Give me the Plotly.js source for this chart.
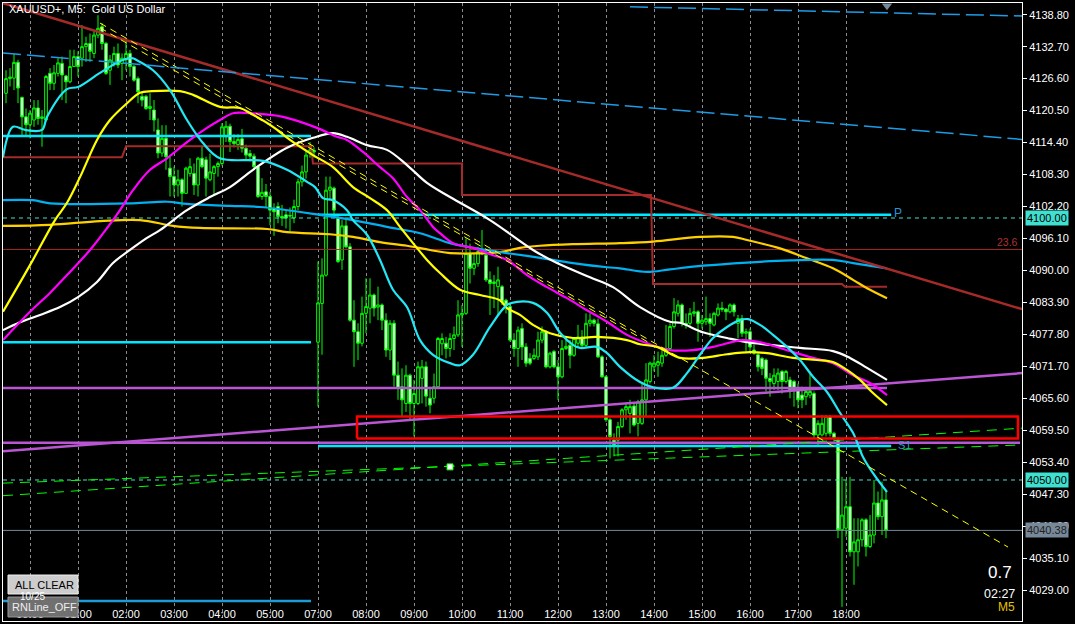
<!DOCTYPE html>
<html><head><meta charset="utf-8">
<script src="https://cdn.plot.ly/plotly-3.0.1.min.js"></script>
<style>html,body{margin:0;padding:0;background:#000;overflow:hidden}#chart{width:1075px;height:624px}</style>
</head><body><div id="chart"></div>
<script>
// ---------- DATA ----------
const firstBar = -6; // bar index of first visible M5 candle (00:00 = bar 0)
const open = [
4123.8,4126.6,4126.7,4129.7,4123.0,4119.3,4117.8,4118.7,4121.0,4119.0,
4118.7,4127.6,4125.7,4127.6,4129.5,4127.1,4126.0,4128.9,4130.8,4130.5,
4132.7,4133.3,4131.4,4134.9,4136.5,4133.3,4128.2,4129.5,4131.4,4129.5,
4130.2,4131.4,4128.9,4126.6,4123.2,4123.2,4120.9,4120.6,4116.8,4112.4,
4115.2,4109.5,4107.9,4106.3,4107.3,4104.7,4108.5,4108.5,4106.3,4111.4,
4111.1,4107.3,4108.5,4109.8,4110.4,4115.5,4117.5,4114.6,4114.0,4115.1,
4113.3,4112.3,4111.8,4109.8,4104.1,4105.0,4104.1,4101.8,4102.2,4100.3,
4100.6,4100.5,4100.0,4102.2,4106.9,4108.8,4112.5,4112.9,4076.3,4083.7,
4089.1,4105.3,4105.7,4099.9,4092.0,4098.5,4094.5,4080.5,4078.3,4076.1,
4081.8,4082.8,4085.3,4083.0,4083.4,4080.5,4074.8,4079.9,4070.0,4067.8,
4064.6,4070.0,4064.6,4064.6,4069.4,4071.6,4065.6,4065.6,4067.8,4076.0,
4076.1,4075.1,4077.0,4077.7,4081.5,4081.8,4093.2,4090.4,4091.3,4093.6,
4092.9,4088.2,4087.5,4086.9,4086.9,4084.3,4083.1,4076.7,4075.1,4078.9,
4075.4,4073.2,4073.2,4073.5,4076.7,4078.3,4071.6,4074.5,4071.6,4069.7,
4075.1,4075.7,4073.8,4076.1,4077.3,4075.7,4079.9,4080.5,4079.8,4073.5,
4069.7,4061.5,4057.6,4057.6,4060.2,4063.4,4062.7,4064.1,4060.8,4060.8,
4065.3,4068.8,4071.6,4071.9,4072.3,4073.8,4075.1,4079.3,4081.8,4083.4,
4079.9,4079.9,4081.8,4082.1,4079.9,4080.2,4080.8,4079.6,4081.5,4082.8,
4082.6,4082.1,4083.4,4079.9,4080.8,4078.0,4078.3,4074.8,4073.9,4073.2,
4072.9,4069.4,4068.4,4068.8,4070.7,4068.8,4069.1,4068.8,4067.2,4066.2,
4065.9,4066.2,4066.5,4058.6,4058.6,4058.9,4062.1,4058.9,4057.6,4040.5,
4040.8,4044.9,4036.3,4036.3,4038.6,4042.4,4037.3,4039.5,4045.6,4043.0,4046.2];
const high = [
4128.2,4128.6,4131.4,4130.2,4123.2,4120.9,4120.6,4122.5,4122.5,4120.6,
4127.3,4128.6,4129.2,4130.5,4130.8,4127.3,4132.1,4132.1,4131.8,4136.8,
4134.6,4135.2,4135.9,4138.7,4137.2,4133.6,4131.1,4132.7,4133.3,4131.4,
4134.3,4132.1,4129.2,4127.0,4124.1,4123.5,4123.8,4122.5,4119.0,4117.7,
4117.7,4111.7,4109.8,4109.2,4107.6,4109.8,4111.4,4110.4,4111.7,4113.6,
4111.7,4112.3,4110.1,4110.8,4118.1,4118.5,4118.0,4116.0,4116.0,4117.0,
4114.0,4113.0,4112.3,4110.0,4107.6,4106.5,4105.0,4102.8,4103.0,4102.5,
4101.5,4102.0,4103.5,4107.5,4110.0,4113.0,4114.5,4113.5,4091.7,4092.3,
4107.9,4107.9,4106.0,4100.6,4099.6,4100.2,4095.2,4084.3,4079.9,4085.0,
4088.5,4088.5,4085.6,4086.9,4083.7,4081.8,4080.5,4080.5,4072.6,4071.3,
4071.9,4070.3,4069.1,4072.6,4072.9,4072.6,4067.8,4070.3,4077.3,4078.0,
4077.3,4078.0,4079.3,4084.3,4083.4,4096.1,4095.1,4093.2,4094.5,4097.7,
4093.9,4089.8,4089.1,4090.7,4087.2,4084.6,4083.4,4078.0,4079.3,4079.9,
4076.1,4074.2,4075.1,4078.3,4079.3,4078.6,4074.5,4074.8,4072.9,4076.7,
4077.3,4076.7,4077.3,4079.6,4078.6,4081.8,4081.8,4080.8,4080.8,4073.8,
4070.0,4061.8,4058.9,4061.1,4063.7,4064.6,4065.3,4064.8,4065.3,4068.4,
4072.3,4072.6,4073.8,4074.5,4074.8,4079.6,4079.9,4084.7,4084.3,4083.7,
4081.8,4082.8,4084.0,4082.4,4081.5,4085.0,4081.8,4082.1,4083.7,4084.0,
4082.8,4083.7,4083.7,4081.5,4081.5,4078.9,4078.9,4075.8,4074.2,4073.5,
4073.2,4070.4,4071.3,4071.3,4071.0,4071.0,4069.7,4069.1,4068.4,4067.8,
4067.2,4070.7,4066.9,4061.4,4062.4,4062.4,4062.4,4059.2,4058.0,4050.6,
4050.0,4050.6,4042.7,4042.7,4042.7,4042.7,4043.3,4050.0,4047.8,4049.7,4047.8];
const low = [
4121.9,4125.1,4124.4,4121.9,4115.5,4115.5,4115.2,4117.4,4117.8,4113.6,
4118.4,4124.4,4124.4,4127.0,4122.5,4121.9,4125.7,4128.9,4127.0,4128.9,
4129.8,4129.8,4130.5,4134.3,4132.1,4127.3,4125.4,4128.9,4128.6,4126.3,
4128.2,4127.0,4126.0,4121.9,4121.3,4120.6,4118.7,4116.5,4111.4,4111.7,
4109.2,4104.1,4104.1,4104.1,4102.2,4104.7,4107.9,4104.4,4104.1,4109.5,
4104.1,4107.0,4104.4,4107.9,4110.0,4114.5,4112.6,4113.5,4113.0,4112.5,
4111.0,4110.8,4109.2,4103.8,4103.5,4102.0,4098.6,4096.6,4099.0,4098.5,
4098.0,4097.5,4099.0,4101.5,4106.0,4107.5,4111.5,4111.5,4064.0,4073.9,
4088.8,4103.4,4100.3,4091.4,4090.1,4094.2,4080.2,4071.6,4072.9,4075.5,
4078.0,4079.9,4081.2,4080.5,4078.6,4073.5,4072.9,4067.8,4065.3,4062.1,
4063.0,4061.4,4058.3,4064.3,4064.6,4064.0,4062.7,4064.6,4067.5,4073.8,
4073.2,4073.5,4074.8,4077.3,4075.4,4081.5,4087.5,4089.1,4090.7,4092.9,
4087.8,4081.5,4082.8,4081.5,4083.4,4081.8,4076.4,4073.5,4071.6,4072.9,
4071.6,4071.9,4072.9,4072.9,4076.1,4071.3,4071.3,4071.3,4065.3,4069.4,
4074.8,4071.3,4073.5,4075.4,4075.2,4075.4,4079.3,4079.3,4073.3,4069.5,
4061.1,4054.1,4054.5,4054.5,4059.9,4061.5,4058.9,4060.2,4058.3,4060.5,
4062.1,4068.4,4070.7,4069.7,4071.6,4073.5,4074.8,4078.9,4081.2,4079.3,
4078.9,4079.3,4081.2,4076.4,4078.9,4079.6,4077.3,4079.3,4081.2,4082.1,
4080.5,4081.8,4081.2,4077.0,4077.3,4074.5,4074.5,4073.9,4070.7,4070.0,
4066.9,4065.9,4067.2,4067.2,4066.5,4068.4,4065.6,4064.0,4063.7,4063.7,
4064.3,4065.6,4058.0,4056.4,4058.3,4058.3,4058.3,4057.3,4038.9,4025.8,
4039.2,4035.4,4030.0,4033.5,4037.3,4035.4,4037.0,4037.9,4042.4,4039.5,4038.9];
const close = [
4126.6,4126.9,4129.7,4124.8,4119.3,4117.8,4120.0,4121.0,4119.0,4119.3,
4127.0,4125.7,4127.7,4129.6,4127.3,4126.0,4128.9,4130.8,4128.9,4132.7,
4133.3,4131.8,4134.9,4136.2,4133.3,4127.6,4130.2,4131.4,4129.2,4130.5,
4131.4,4128.9,4126.3,4124.1,4122.5,4120.9,4121.3,4118.7,4112.4,4115.2,
4111.7,4107.9,4106.3,4107.3,4104.7,4109.5,4109.8,4106.3,4111.4,4109.8,
4107.6,4108.8,4109.8,4110.4,4117.4,4117.5,4114.6,4114.2,4115.0,4113.3,
4112.0,4111.8,4109.8,4104.1,4104.9,4104.1,4101.5,4101.2,4100.3,4100.0,
4100.0,4100.4,4102.2,4106.9,4108.8,4112.0,4113.0,4112.6,4083.8,4089.1,
4105.3,4105.9,4101.5,4091.7,4098.5,4094.5,4080.5,4078.3,4076.1,4081.8,
4083.1,4085.3,4082.8,4083.4,4080.5,4074.8,4079.9,4070.0,4067.5,4065.3,
4070.0,4064.6,4066.5,4071.6,4071.6,4066.0,4064.3,4067.8,4077.0,4077.0,
4075.1,4077.0,4077.7,4081.5,4081.8,4093.2,4090.4,4091.3,4093.6,4093.9,
4088.2,4087.5,4087.8,4088.2,4084.0,4083.4,4076.7,4075.1,4078.6,4075.4,
4072.3,4072.3,4073.8,4076.7,4078.3,4071.6,4074.2,4071.6,4069.7,4075.1,
4075.5,4073.8,4077.0,4077.3,4075.7,4079.9,4080.5,4079.9,4073.5,4069.7,
4061.5,4058.3,4056.7,4060.2,4063.4,4064.0,4064.0,4060.5,4064.9,4065.3,
4069.1,4072.3,4072.3,4072.6,4073.8,4075.1,4079.3,4082.1,4083.4,4079.9,
4079.6,4081.8,4082.1,4079.9,4080.5,4080.8,4079.9,4081.8,4082.8,4082.6,
4082.1,4083.4,4082.1,4080.8,4078.0,4078.3,4075.4,4074.2,4071.6,4071.3,
4069.4,4068.8,4070.0,4070.4,4068.8,4070.7,4067.2,4067.2,4065.3,4065.3,
4066.9,4066.9,4058.6,4060.8,4060.8,4062.1,4058.9,4058.0,4040.5,4043.3,
4044.9,4036.3,4038.2,4038.6,4042.4,4037.3,4039.5,4045.6,4043.0,4046.2,4040.38];

// moving averages (bar index, price)
const maCyanX = [-6.75,-4.25,-1.25,3,4.25,9.25,12,17.5,23,25.5,26.75,30.75,35,39.25,43.25,47.5,58.25,64.25,69.25,71.25,73.25,75.75,79.25,80.75,84.25,87.5,90.75,94.25,97.5,100.75,105,107.5,110.75,115,119.25,121.75,125.75,129.25,132.5,135.75,137.5,141.75,144.25,147.5,152.5,155.75,160.75,164.25,167.5,170.75,174.25,177.5,179.5,182.5,185.75,189.25,192.5,195.75,199.25,202.5,205.75,208.25,210.75,214.25];
const maCyanY = [4111.6,4117.4,4116.8,4116.8,4119.3,4124.6,4125.0,4127.7,4130.1,4130.5,4130.1,4128.2,4124.4,4118.7,4114.3,4111.4,4110.9,4109.2,4106.9,4105.9,4103.8,4103.4,4101.5,4099.6,4096.8,4092.0,4086.3,4083.0,4076.7,4073.9,4072.3,4071.9,4073.9,4079.2,4083.4,4084.0,4083.8,4081.9,4078.1,4075.8,4075.2,4075.4,4074.2,4071.6,4068.7,4067.7,4067.6,4070.4,4073.9,4077.1,4079.2,4080.5,4080.7,4079.6,4077.7,4075.4,4072.9,4069.7,4066.8,4062.8,4059.0,4054.4,4051.3,4047.7];
const maYellowX = [-6.75,0,6.25,9.25,12.5,16.75,20,24.25,27.5,30.5,37.5,40.75,47.5,52.5,55.75,60.75,65,70.75,75.75,80.75,85,89.25,92.5,95.75,99.25,102.5,107.5,112.5,117.5,119.25,122.5,125.75,130,135.75,141.75,149.25,152.5,156.75,162.5,168.25,174.25,180,184.25,190.75,196.75,200.75,204.25,207.5,210.75,214.25];
const maYellowY = [4082.1,4091.0,4099.6,4102.9,4107.8,4114.9,4118.7,4121.9,4123.9,4124.2,4124.2,4123.5,4121.2,4121.0,4119.7,4117.4,4114.9,4112.0,4109.7,4105.9,4103.8,4101.5,4098.3,4095.2,4092.0,4089.5,4086.3,4085.3,4084.3,4082.8,4081.5,4079.6,4078.0,4077.1,4077.3,4076.7,4075.9,4075.4,4073.3,4073.3,4074.0,4074.4,4074.2,4073.3,4072.9,4072.5,4071.0,4069.1,4066.6,4064.3];
const maMagentaX = [-6.75,0,5,9.25,15,20.75,22.5,25.75,30,34.25,39.25,44.25,47.5,50.75,55,63.25,71.75,76.75,79.25,83.25,87.5,90.75,94.25,97.5,100.75,102.5,105.75,110.75,115.75,119.25,124.25,129.25,134.25,139.25,144.25,149.25,154.25,160,165.75,170.75,178.25,182.5,190.75,195.75,200.75,205.75,210,214.25];
const maMagentaY = [4076.7,4082.1,4085.7,4089.1,4093.9,4099.6,4101.5,4105.3,4109.2,4111.4,4114.5,4117.2,4118.7,4120.0,4120.0,4119.3,4117.2,4115.5,4114.9,4112.6,4109.7,4107.6,4104.0,4101.5,4098.3,4097.1,4095.2,4094.3,4092.9,4092.0,4089.1,4086.8,4084.7,4082.4,4080.2,4077.7,4076.1,4074.8,4074.8,4075.4,4076.7,4076.3,4074.4,4073.3,4072.3,4070.0,4068.5,4066.2];
const maWhiteX = [-6.75,-2.5,2.5,7.5,12,16.75,20.75,25,29.25,32.5,39.25,45,50,55.75,64.25,70.75,75.75,79.25,84.25,89.25,94.25,99.25,105,115,125.75,131.75,140,145.75,152.5,160,162.5,168.25,174.25,179.25,185,192.5,200.75,205,209.25,214.25];
const maWhiteY = [4078.6,4080.1,4081.5,4083.0,4084.9,4087.8,4091.4,4093.9,4096.2,4097.7,4101.5,4104.0,4105.9,4109.2,4113.4,4115.3,4116.2,4115.5,4113.9,4113.0,4110.1,4106.7,4104.0,4099.6,4093.9,4091.4,4088.7,4086.8,4083.0,4080.2,4080.0,4078.2,4077.1,4076.3,4075.8,4075.2,4074.6,4073.3,4071.4,4069.1];
const maBlueX = [-6.75,0.75,5,25.75,34.25,39.25,50,57.5,72.5,80.75,89.25,97.5,105,110.75,119.25,127.5,135.75,144.25,147.5,154.25,160,168.25,179.25,190,200.75,205.75,214.25];
const maBlueY = [4103.4,4103.4,4102.8,4102.8,4103.1,4102.7,4102.3,4102.1,4100.6,4099.6,4098.3,4097.1,4095.2,4094.3,4093.3,4092.4,4091.4,4090.6,4090.4,4089.7,4090.2,4090.9,4091.5,4091.9,4092.0,4091.4,4090.4];
const maGoldX = [-6.75,5,17.5,27.5,35.75,42.5,59.25,64.25,75,80.75,87.5,94.25,100,105,117.5,122.5,127.5,135.75,147.5,155.75,167.5,175.75,179.25,187.5,194.25,200.75,205.75,209.25,214.25];
const maGoldY = [4098.5,4098.7,4099.4,4099.6,4098.5,4098.1,4097.9,4097.3,4096.9,4096.4,4095.4,4094.7,4093.9,4093.3,4093.5,4094.3,4094.7,4095.0,4095.2,4095.5,4096.4,4096.4,4095.8,4094.2,4092.3,4090.4,4088.2,4086.6,4084.7];

// drawn objects (bar index, price)
const downTrendX = [-6.75, 248], downTrendY = [4141.0, 4082.6];
const yellowTrendX = [17.5, 244.5], yellowTrendY = [4137.2, 4037.2];
const yellowTrend2X = [17.5, 155], yellowTrend2Y = [4136.3, 4076.1];
const blueChanLowX = [-6.75, 248], blueChanLowY = [4131.5, 4115.0];
const blueChanHighX = [150, 248], blueChanHighY = [4140.3, 4138.55];
const purpleRiseX = [-6.75, 248], purpleRiseY = [4055.5, 4070.4];
const greenAX = [-6.75, 248], greenAY = [4047.0, 4059.9];
const greenBX = [-6.75, 248], greenBY = [4049.4, 4056.7];
const stepX = [-6.75, 23, 24, 70.25, 70.75, 108, 108, 155.25, 155.75, 203, 203.75, 214.25];
const stepY = [4111.6, 4111.6, 4113.7, 4113.7, 4110.4, 4110.4, 4104.4, 4104.4, 4087.4, 4087.4, 4086.9, 4086.9];
const boxX = [81.75, 247], boxY = [4057.9, 4062.1];
const cyanLevels = [4115.65, 4076.3], cyanLevelSpan = [-6.75, 70.25];
const blueLevel = 4026.9;
const pivotP = 4100.6, pivotS1 = 4056.5, pivotSpan = [72, 215.3];
const purpleLevelA = 4067.55, purpleLevelASpan = [-6.75, 214.25];
const purpleLevelB = 4057.1, purpleLevelBSpan = [-6.75, 247.5];
const roundLevels = [4100.00, 4050.00];
const fibLevel = 4094.0, fibLabel = '23.6';
const bidPrice = 4040.38;
const fullSpan = [-6.75, 248];
const markerSquare = {x: 105, y: 4052.5};
const markerTri = {x: 214.25, y: 4140.5};

// axes
const hourTicks = [0,12,24,36,48,60,72,84,96,108,120,132,144,156,168,180,192,204];
const hourLabels = ['00:00','01:00','02:00','03:00','04:00','05:00','07:00','08:00','09:00','10:00','11:00','12:00','13:00','14:00','15:00','16:00','17:00','18:00'];
const priceTicks = [4029.0,4035.1,4041.2,4047.3,4053.4,4059.5,4065.6,4071.7,4077.8,4083.9,4090.0,4096.1,4102.2,4108.3,4114.4,4120.5,4126.6,4132.7,4138.8];

// ---------- DRAW ----------
const FONT = 'Liberation Sans, Arial, sans-serif';
const bars = open.map((_, k) => firstBar + k);
const traces = [];
function line(x, y, color, width, dash, shape) {
  traces.push({type:'scatter', mode:'lines', x, y, hoverinfo:'skip', showlegend:false,
    line:{color, width, dash: dash || 'solid', shape: shape || 'linear'}});
}
// background levels
roundLevels.forEach(v => line(fullSpan, [v, v], '#40E0D0', 1, '4px,4px'));
line(fullSpan, [fibLevel, fibLevel], '#A52A2A', 1);
line(fullSpan, [bidPrice, bidPrice], '#778899', 1);
line(purpleLevelASpan, [purpleLevelA, purpleLevelA], '#BA55D3', 2.5);
line(purpleLevelBSpan, [purpleLevelB, purpleLevelB], '#BA55D3', 2.5);
line(purpleRiseX, purpleRiseY, '#BA55D3', 2.5);
cyanLevels.forEach(v => line(cyanLevelSpan, [v, v], '#00E8FF', 2.5));
line(cyanLevelSpan, [blueLevel, blueLevel], '#1E9BD7', 2.5);
line(pivotSpan, [pivotP, pivotP], '#00E8FF', 2.5);
line(pivotSpan, [pivotS1, pivotS1], '#00E8FF', 2.5);
line(greenAX, greenAY, '#00FF00', 1, '10px,7px');
line(greenBX, greenBY, '#00FF00', 1, '10px,7px');
line(stepX, stepY, '#A52A2A', 2);

// candles
traces.push({type:'candlestick', x: bars, open, high, low, close, hoverinfo:'skip', showlegend:false,
  whiskerwidth: 0,
  increasing:{line:{color:'#00FF00', width:1}, fillcolor:'#000000'},
  decreasing:{line:{color:'#00FF00', width:1}, fillcolor:'#FFFFFF'}});

// moving averages
line(maGoldX, maGoldY, '#FFD000', 2.2, null, 'spline');
line(maBlueX, maBlueY, '#00B0F0', 2.2, null, 'spline');
line(maWhiteX, maWhiteY, '#FFFFFF', 2.2, null, 'spline');
line(maMagentaX, maMagentaY, '#FF00FF', 2.2, null, 'spline');
line(maYellowX, maYellowY, '#FFFF00', 2.2, null, 'spline');
line(maCyanX, maCyanY, '#22E8F5', 2.2, null, 'spline');

// objects on top
line([boxX[0], boxX[1], boxX[1], boxX[0], boxX[0]], [boxY[0], boxY[0], boxY[1], boxY[1], boxY[0]], '#FF0000', 2.5);
line(downTrendX, downTrendY, '#A52A2A', 2.5);
line(yellowTrendX, yellowTrendY, '#FFFF00', 1, '7px,5px');
line(yellowTrend2X, yellowTrend2Y, '#FFFF00', 1, '7px,5px');
line(blueChanLowX, blueChanLowY, '#1E9BE6', 1.5, '18px,6px');
line(blueChanHighX, blueChanHighY, '#1E9BE6', 1.5, '18px,6px');
traces.push({type:'scatter', mode:'markers', x:[markerSquare.x], y:[markerSquare.y], hoverinfo:'skip', showlegend:false,
  marker:{symbol:'square', size:6, color:'#FFFFFF', line:{color:'#00FF00', width:1}}});
traces.push({type:'scatter', mode:'markers', x:[markerTri.x], y:[markerTri.y], hoverinfo:'skip', showlegend:false,
  marker:{symbol:'triangle-down', size:9, color:'#778899'}});

const annotations = [
  {xref:'paper', yref:'paper', x:0.004, y:0.990, xanchor:'left', yanchor:'middle', showarrow:false,
   text:'XAUUSD+, M5:  Gold US Dollar', font:{family:FONT, size:11, color:'#FFFFFF'}},
  {xref:'x', yref:'y', x:215.6, y:pivotP + 0.4, xanchor:'left', yanchor:'middle', showarrow:false,
   text:'P', font:{family:FONT, size:12, color:'#2A95D5'}},
  {xref:'x', yref:'y', x:216.4, y:pivotS1 + 0.2, xanchor:'left', yanchor:'middle', showarrow:false,
   text:'S1', font:{family:FONT, size:11, color:'#2A9FD6'}},
  {xref:'x', yref:'y', x:247.5, y:fibLevel + 1.4, xanchor:'right', yanchor:'middle', showarrow:false,
   text:fibLabel, font:{family:FONT, size:10.5, color:'#B03030'}},
  {xref:'paper', yref:'paper', x:0.978, y:0.078, xanchor:'center', yanchor:'middle', showarrow:false,
   text:'0.7', font:{family:FONT, size:17, color:'#FFFFFF'}},
  {xref:'paper', yref:'paper', x:0.978, y:0.044, xanchor:'center', yanchor:'middle', showarrow:false,
   text:'02:27', font:{family:FONT, size:12.5, color:'#FFFFFF'}},
  {xref:'paper', yref:'paper', x:0.985, y:0.023, xanchor:'center', yanchor:'middle', showarrow:false,
   text:'M5', font:{family:FONT, size:12, color:'#E6C200'}},
  {xref:'paper', yref:'paper', x:0.0403, y:0.059, xanchor:'center', yanchor:'middle', showarrow:false,
   text:'ALL CLEAR', font:{family:FONT, size:11, color:'#000000'}},
  {xref:'paper', yref:'paper', x:0.0403, y:0.022, xanchor:'center', yanchor:'middle', showarrow:false,
   text:'RNLine_OFF', font:{family:FONT, size:11, color:'#EEEEEE'}},
  {xref:'paper', yref:'paper', x:0.0285, y:0.039, xanchor:'center', yanchor:'middle', showarrow:false,
   text:'10/25', font:{family:FONT, size:10, color:'#FFFFFF'}}
];
roundLevels.forEach(v => annotations.push({xref:'paper', yref:'y', x:1, y:v, xanchor:'left', xshift:3, yanchor:'middle',
  showarrow:false, text:v.toFixed(2), bgcolor:'#40E0D0', borderpad:1, font:{family:FONT, size:11, color:'#000000'}}));
annotations.push({xref:'paper', yref:'y', x:1, y:bidPrice, xanchor:'left', xshift:3, yanchor:'middle',
  showarrow:false, text:bidPrice.toFixed(2), bgcolor:'#778899', borderpad:1, font:{family:FONT, size:11, color:'#222222'}});

const shapes = [
  {type:'rect', xref:'paper', yref:'paper', x0:0.0049, x1:0.0736, y0:0.0437, y1:0.0744, layer:'above',
   fillcolor:'#CDCDCD', line:{color:'#F0F0F0', width:1}},
  {type:'rect', xref:'paper', yref:'paper', x0:0.0049, x1:0.0736, y0:0.0065, y1:0.0388, layer:'above',
   fillcolor:'#707070', line:{color:'#9A9A9A', width:1}}
];

const layout = {
  width:1075, height:624, margin:{l:3, r:53, t:3, b:3},
  paper_bgcolor:'#000000', plot_bgcolor:'#000000', showlegend:false,
  font:{family:FONT, color:'#FFFFFF'},
  xaxis:{range:[-6.75, 248], tickmode:'array', tickvals:hourTicks, ticktext:hourLabels,
    ticklabelposition:'inside', ticks:'', tickfont:{family:FONT, size:11, color:'#FFFFFF'},
    showgrid:true, gridcolor:'#8C8C8C', griddash:'3px,3px', gridwidth:1, zeroline:false,
    showline:true, mirror:true, linecolor:'#FFFFFF', linewidth:1, rangeslider:{visible:false}, fixedrange:true},
  yaxis:{range:[4023.09, 4141.03], side:'right', tickmode:'array', tickvals:priceTicks,
    ticktext:priceTicks.map(v => v.toFixed(2)), ticks:'outside', ticklen:4, tickcolor:'#FFFFFF',
    tickfont:{family:FONT, size:11, color:'#FFFFFF'}, showgrid:false, zeroline:false,
    showline:true, mirror:true, linecolor:'#FFFFFF', linewidth:1, fixedrange:true},
  annotations, shapes, boxgap:0.05
};
Plotly.newPlot('chart', traces, layout, {staticPlot:true, displayModeBar:false});
</script>
</body></html>
